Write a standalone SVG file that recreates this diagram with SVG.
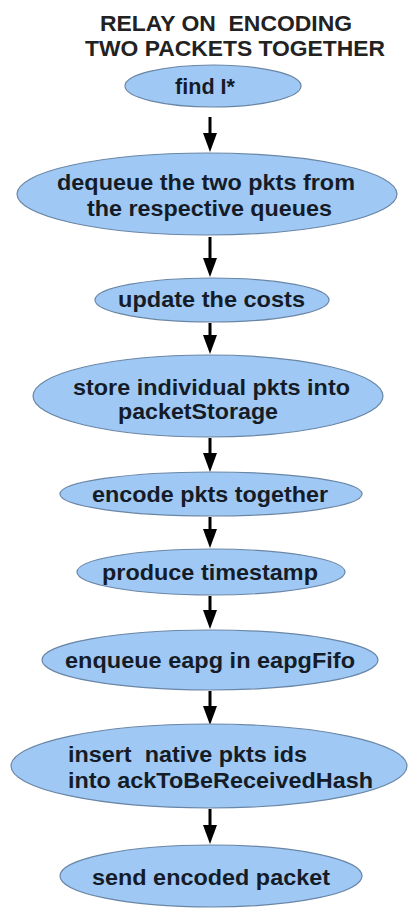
<svg xmlns="http://www.w3.org/2000/svg" width="408" height="909" viewBox="0 0 408 909">
<defs>
<style>
.node ellipse{fill:#9fc9f4;stroke:#6a86a6;stroke-width:1.2}
.node text{font-family:"Liberation Sans",Arial,sans-serif;font-weight:bold;font-size:22px;fill:#151c28}
.title{font-family:"Liberation Sans",Arial,sans-serif;font-weight:bold;font-size:22px;fill:#222}
.conn line{stroke:#000;stroke-width:3}
</style>
</defs>
<rect width="408" height="909" fill="#fff"/>
<g id="title">
<text class="title" x="100" y="31" textLength="252" lengthAdjust="spacingAndGlyphs" xml:space="preserve">RELAY ON  ENCODING</text>
<text class="title" x="85" y="56" textLength="300" lengthAdjust="spacingAndGlyphs">TWO PACKETS TOGETHER</text>
</g>
<g id="connectors" class="conn">
<line x1="210" y1="117" x2="210" y2="134"/><path d="M203,133 L217,133 L210,152 Z"/>
<line x1="210" y1="237" x2="210" y2="259"/><path d="M203,258 L217,258 L210,277 Z"/>
<line x1="210" y1="323" x2="210" y2="336"/><path d="M203,335 L217,335 L210,354 Z"/>
<line x1="210" y1="438" x2="210" y2="454"/><path d="M203,453 L217,453 L210,472 Z"/>
<line x1="210" y1="517" x2="210" y2="530"/><path d="M203,529 L217,529 L210,548 Z"/>
<line x1="210" y1="596" x2="210" y2="611"/><path d="M203,610 L217,610 L210,629 Z"/>
<line x1="210" y1="691" x2="210" y2="707"/><path d="M203,706 L217,706 L210,725 Z"/>
<line x1="210" y1="809" x2="210" y2="826"/><path d="M203,825 L217,825 L210,844 Z"/>
</g>
<g id="n1" class="node"><ellipse cx="213" cy="86" rx="88" ry="21"/><text x="175" y="94" textLength="60" lengthAdjust="spacingAndGlyphs">find I*</text></g>
<g id="n2" class="node"><ellipse cx="207" cy="194" rx="190" ry="41"/><text x="57" y="190" textLength="298" lengthAdjust="spacingAndGlyphs">dequeue the two pkts from</text><text x="87" y="216" textLength="245" lengthAdjust="spacingAndGlyphs">the respective queues</text></g>
<g id="n3" class="node"><ellipse cx="212" cy="300" rx="117" ry="22"/><text x="118" y="307" textLength="187" lengthAdjust="spacingAndGlyphs">update the costs</text></g>
<g id="n4" class="node"><ellipse cx="208" cy="396" rx="175" ry="41"/><text x="73" y="395" textLength="277" lengthAdjust="spacingAndGlyphs">store individual pkts into</text><text x="118" y="419" textLength="160" lengthAdjust="spacingAndGlyphs">packetStorage</text></g>
<g id="n5" class="node"><ellipse cx="211" cy="494" rx="151" ry="22"/><text x="92" y="502" textLength="236" lengthAdjust="spacingAndGlyphs">encode pkts together</text></g>
<g id="n6" class="node"><ellipse cx="211" cy="572" rx="134" ry="23"/><text x="102" y="580" textLength="216" lengthAdjust="spacingAndGlyphs">produce timestamp</text></g>
<g id="n7" class="node"><ellipse cx="210" cy="660" rx="168" ry="30"/><text x="65" y="668" textLength="290" lengthAdjust="spacingAndGlyphs">enqueue eapg in eapgFifo</text></g>
<g id="n8" class="node"><ellipse cx="209" cy="766" rx="198" ry="42"/><text x="68" y="762" textLength="239" lengthAdjust="spacingAndGlyphs" xml:space="preserve">insert  native pkts ids</text><text x="68" y="788" textLength="305" lengthAdjust="spacingAndGlyphs">into ackToBeReceivedHash</text></g>
<g id="n9" class="node"><ellipse cx="211" cy="876" rx="151" ry="31"/><text x="92" y="885" textLength="238" lengthAdjust="spacingAndGlyphs">send encoded packet</text></g>
</svg>
